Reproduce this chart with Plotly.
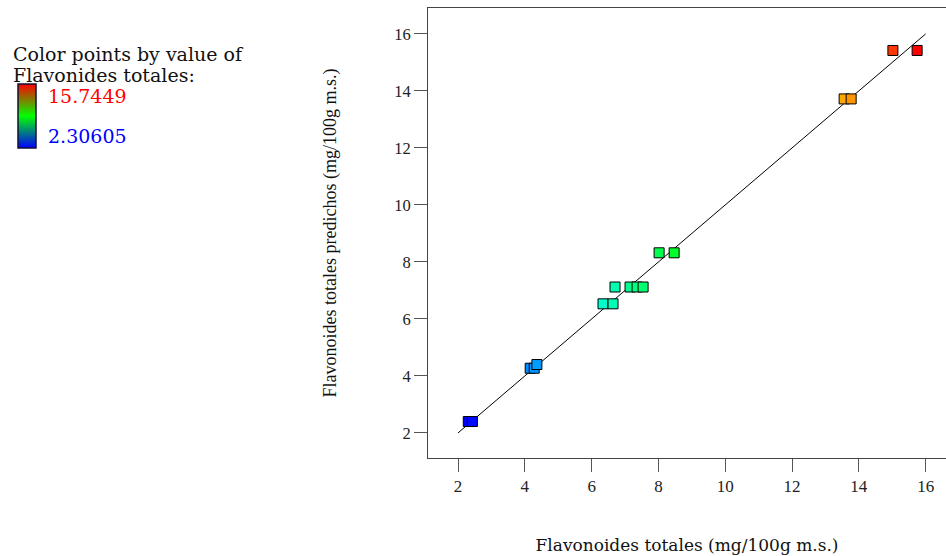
import plotly.graph_objects as go

# Actual vs. predicted total flavonoids (mg/100g m.s.)
actual = [2.306, 2.43, 4.16, 4.28, 4.36, 6.34, 6.64, 6.70, 7.15, 7.36, 7.54,
          8.02, 8.47, 13.56, 13.77, 15.02, 15.7449]
predicted = [2.40, 2.40, 4.27, 4.27, 4.40, 6.53, 6.53, 7.12, 7.12, 7.12, 7.12,
             8.32, 8.32, 13.72, 13.72, 15.42, 15.42]
color_min = 2.30605
color_max = 15.7449
ref_line = [2, 16]
ticks = [2, 4, 6, 8, 10, 12, 14, 16]

W, H = 946, 556
serif = "Liberation Serif, Times New Roman, serif"
wide_serif = "DejaVu Serif, serif"

point_scale = [[0, "rgb(0,0,255)"], [0.25, "rgb(0,255,255)"], [0.5, "rgb(0,255,0)"],
               [0.75, "rgb(255,255,0)"], [1, "rgb(255,0,0)"]]
legend_scale = [[0, "rgb(0,0,255)"], [0.5, "rgb(0,255,0)"], [1, "rgb(255,0,0)"]]

fig = go.Figure()

# 1:1 reference line
fig.add_trace(go.Scatter(x=ref_line, y=ref_line, mode="lines",
                         line=dict(color="black", width=1), hoverinfo="skip",
                         showlegend=False))

# design points coloured by their actual value
fig.add_trace(go.Scatter(
    x=actual, y=predicted, mode="markers", showlegend=False,
    marker=dict(symbol="square", size=10, color=actual, colorscale=point_scale,
                cmin=color_min, cmax=color_max,
                line=dict(color="black", width=1)),
))

# colour key
fig.add_trace(go.Scatter(
    x=[color_min, color_max], y=[color_min, color_max], mode="markers",
    showlegend=False, hoverinfo="skip",
    marker=dict(size=1, opacity=0, color=[color_min, color_max],
                colorscale=legend_scale, cmin=color_min, cmax=color_max,
                showscale=True,
                colorbar=dict(x=18 / W, xanchor="left", y=1 - 84 / H, yanchor="top",
                              len=64, lenmode="pixels", thickness=18,
                              thicknessmode="pixels", xpad=0, ypad=0,
                              outlinecolor="#101030", outlinewidth=1.5,
                              showticklabels=False, ticks="")),
))

axis_common = dict(
    showgrid=False, zeroline=False, showline=True, linecolor="#444",
    linewidth=1, ticks="outside", ticklen=13, tickcolor="#555",
    tickvals=ticks,
)


def note(text, x, y, color="#111", size=19):
    return dict(text=text, x=x / W, y=1 - y / H, xref="paper", yref="paper",
                xanchor="left", yanchor="middle", showarrow=False,
                font=dict(family=wide_serif, size=size, color=color))


fig.update_layout(
    width=W, height=H,
    margin=dict(l=0, r=0, t=0, b=0),
    paper_bgcolor="white", plot_bgcolor="white",
    font=dict(family=serif),
    xaxis=dict(axis_common, domain=[428 / W, 1], range=[1.10, 16.61], mirror=True,
               tickfont=dict(family=serif, size=17, color="#222"),
               title=dict(text="Flavonoides totales (mg/100g m.s.)", standoff=43,
                          font=dict(family=wide_serif, size=17, color="#111"))),
    yaxis=dict(axis_common, domain=[1 - 458 / H, 1 - 8 / H], range=[1.12, 16.91],
               tickfont=dict(family=serif, size=16.5, color="#222"),
               title=dict(text="Flavonoides totales predichos (mg/100g m.s.)",
                          standoff=52, font=dict(family=serif, size=18, color="#111"))),
    annotations=[
        note("Color points by value of", 11, 54),
        note("Flavonides totales:", 11, 75),
        note(f"{color_max:g}", 46, 96, color="red"),
        note(f"{color_min:g}", 46, 136, color="blue"),
    ],
)

fig.write_html("out.html")
